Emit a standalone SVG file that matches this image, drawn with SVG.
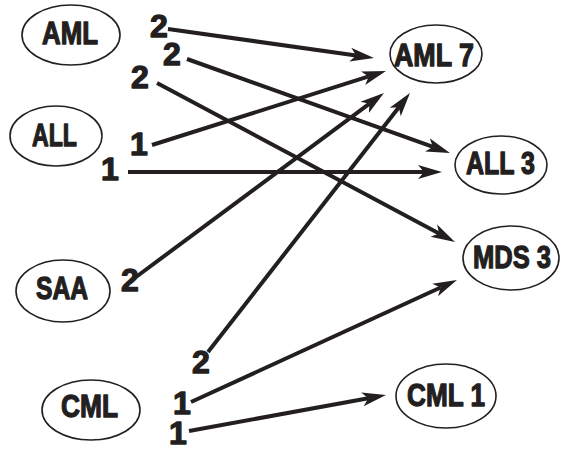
<svg xmlns="http://www.w3.org/2000/svg" width="561" height="449" viewBox="0 0 561 449">
<style>
.n ellipse{fill:#fff;stroke:#231f20;stroke-width:1.6}
text{font-family:"Liberation Sans",Arial,sans-serif;font-weight:bold;font-size:32px;fill:#231f20;stroke:#231f20;stroke-width:1.3;stroke-linejoin:round}
.e line{stroke:#231f20;stroke-width:4;marker-end:url(#ah)}
</style>
<defs>
<marker id="ah" markerUnits="userSpaceOnUse" markerWidth="26" markerHeight="16" viewBox="0 -8 26 16" refX="6" refY="0" orient="auto">
<path d="M24,0 L0,-7 L6,0 L0,7 Z" fill="#231f20"/>
</marker>
</defs>
<rect width="561" height="449" fill="#fff"/>
<g class="e" id="connectors">
<line x1="168" y1="29" x2="356.2" y2="55.5"/>
<line x1="187" y1="59" x2="433" y2="146.9"/>
<line x1="157" y1="83" x2="439.1" y2="233.5"/>
<line x1="152" y1="145" x2="368.8" y2="76.4"/>
<line x1="128" y1="172" x2="424" y2="172"/>
<line x1="136" y1="277" x2="369.5" y2="103.7"/>
<line x1="208" y1="352" x2="398.9" y2="107.2"/>
<line x1="191" y1="402" x2="440.6" y2="287.5"/>
<line x1="189" y1="431" x2="368.3" y2="398.2"/>
</g>
<g id="labels">
<text x="150" y="37">2</text>
<text x="163" y="65">2</text>
<text x="131" y="88">2</text>
<text x="130" y="155">1</text>
<text x="101" y="180">1</text>
<text x="121" y="291">2</text>
<text x="192" y="373">2</text>
<text x="173" y="414">1</text>
<text x="169" y="444">1</text>
</g>
<g class="n" id="AML"><ellipse cx="71" cy="35" rx="49" ry="30"/><text x="42" y="44" textLength="56" lengthAdjust="spacingAndGlyphs">AML</text></g>
<g class="n" id="ALL"><ellipse cx="56" cy="136" rx="46" ry="30"/><text x="32" y="146" textLength="45" lengthAdjust="spacingAndGlyphs">ALL</text></g>
<g class="n" id="SAA"><ellipse cx="63" cy="291" rx="47" ry="31"/><text x="36" y="299" textLength="52" lengthAdjust="spacingAndGlyphs">SAA</text></g>
<g class="n" id="CML"><ellipse cx="91" cy="410" rx="49" ry="30"/><text x="61" y="417" textLength="57" lengthAdjust="spacingAndGlyphs">CML</text></g>
<g class="n" id="AML7"><ellipse cx="436" cy="54" rx="46" ry="29"/><text x="394" y="66" textLength="80" lengthAdjust="spacingAndGlyphs">AML 7</text></g>
<g class="n" id="ALL3"><ellipse cx="501" cy="165" rx="46" ry="29"/><text x="466" y="174" textLength="69" lengthAdjust="spacingAndGlyphs">ALL 3</text></g>
<g class="n" id="MDS3"><ellipse cx="511" cy="258" rx="48" ry="32"/><text x="473" y="268" textLength="78" lengthAdjust="spacingAndGlyphs">MDS 3</text></g>
<g class="n" id="CML1"><ellipse cx="446" cy="396" rx="50" ry="32"/><text x="407" y="406" textLength="78" lengthAdjust="spacingAndGlyphs">CML 1</text></g>
</svg>
